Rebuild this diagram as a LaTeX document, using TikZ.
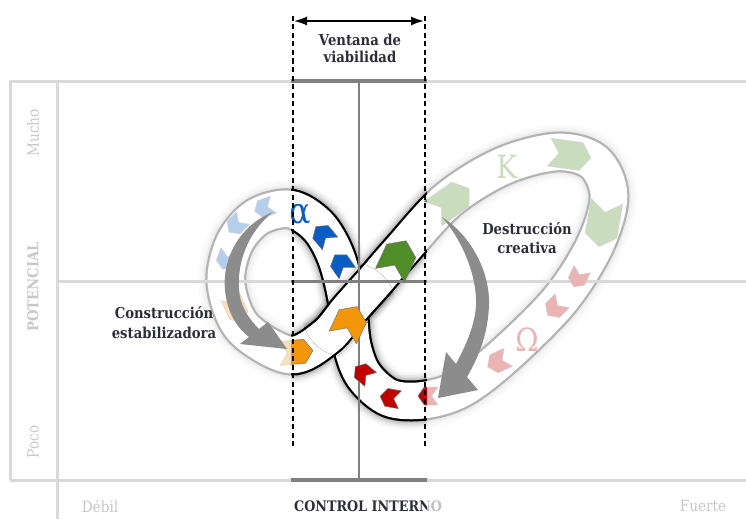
\documentclass[tikz,border=0pt]{standalone}
\usepackage{fontspec}
\setmainfont{DejaVu Serif}[FakeStretch=0.88]
\usetikzlibrary{arrows.meta}
\definecolor{cblue}{RGB}{10,93,194}
\definecolor{corange}{RGB}{243,150,10}
\definecolor{cgreen}{RGB}{80,140,40}
\definecolor{cred}{RGB}{192,0,0}
\definecolor{gridc}{RGB}{128,128,128}
\definecolor{txt}{RGB}{45,45,58}
\definecolor{sidetxt}{RGB}{70,70,70}
\definecolor{arrowgray}{RGB}{140,140,140}
\tikzset{
  pics/chev/.style args={#1/#2}{code={
    \path[pic actions] ({-#1/2},{#2}) -- ({#1/2-0.7*#2},{#2}) -- ({#1/2},0)
      -- ({#1/2-0.7*#2},{-#2}) -- ({-#1/2},{-#2}) -- ({-#1/2+0.7*#2},0) -- cycle;
  }},
  chevstyle/.style={draw=black!55, line width=0.5pt, line join=round},
  lbl/.style={font=\bfseries\fontsize{14.5}{19}\selectfont, text=txt, align=center, inner sep=0pt},
  sidelbl/.style={font=\fontsize{15.5}{17}\selectfont, text=sidetxt, inner sep=0pt},
  greek/.style={font=\fontsize{32}{32}\selectfont, inner sep=0pt},
  gridline/.style={draw=gridc, line width=3pt},
  dashline/.style={draw=black, line width=2.4pt, dash pattern=on 5pt off 3.5pt},
  bigarrow/.style={fill=arrowgray, draw=none},
}
\def\ribbonpath{plot[smooth cycle, tension=0.55] coordinates {(349,310) (374,282) (400,252) (448,200) (503,166) (557,152) (594,162) (609,196) (595,245) (560,300) (505,355) (462,388) (425,400) (390,398) (364,376) (352,345) (347,300) (336,257) (318,226) (290,209) (257,217) (234,244) (226,284) (243,328) (290,355) (326,337)}}
\def\Apath{plot[smooth, tension=0.55] coordinates {(226,284) (243,328) (290,355) (326,337) (349,310) (374,282) (400,252) (448,200)}}
\begin{document}
\begin{tikzpicture}[x=1pt,y=-1pt]
\useasboundingbox (0,0) rectangle (746,519);
% frame
\coordinate (tl) at (10,81);
\coordinate (bl) at (10,480);
\coordinate (tr) at (746,81);
\coordinate (br) at (746,480);
\coordinate (st) at (57,81);
\coordinate (sb) at (57,519);
\coordinate (ml) at (57,281);
\coordinate (mr) at (746,281);
\coordinate (vt) at (359,81);
\coordinate (vb) at (359,480);
\draw[gridline] (tl) -- (tr);
\draw[gridline] (bl) -- (br);
\draw[gridline] (tl) -- (bl);
\draw[gridline] (st) -- (sb);
% ribbon
\foreach \w/\o in {57/0.035, 52/0.05, 48/0.07, 44.5/0.1} {
  \draw[line width=\w pt, black, opacity=\o] \ribbonpath;
}
\draw[line width=41pt, black] \ribbonpath;
\draw[line width=36.5pt, white] \ribbonpath;
\begin{scope}
  \clip (349,310) circle (48pt);
  \foreach \w/\o in {52/0.05, 46/0.09} {
    \draw[line width=\w pt, black, opacity=\o] \Apath;
  }
  \draw[line width=41pt, black] \Apath;
  \draw[line width=36.5pt, white] \Apath;
\end{scope}
% middle lines
\draw[gridline] (ml) -- (mr);
\draw[gridline, line width=2.5pt] (vt) -- (vb);
\coordinate (wtl) at (290,81);
\coordinate (wtr) at (428,81);
\coordinate (wbl) at (290,480);
\coordinate (wbr) at (428,480);
\draw[gridline, line width=4.5pt] (wtl) -- (wtr);
\draw[gridline, line width=4.5pt] (wbl) -- (wbr);
% chevrons left loop
\pic[chevstyle, fill=cblue, rotate=200] at (264,208) {chev={20/9}};
\pic[chevstyle, fill=cblue, rotate=225] at (236,225) {chev={20/9}};
\pic[chevstyle, fill=cblue, rotate=250] at (226,260) {chev={20/9}};
\pic[chevstyle, fill=corange, rotate=-65] at (236,309) {chev={28/10}};
\pic[chevstyle, fill=corange, rotate=5] at (296,352) {chev={34/12}};
\pic[chevstyle, fill=corange, rotate=65] at (350,322) {chev={34/15}};
\pic[chevstyle, fill=cgreen, rotate=65] at (398,258) {chev={38/16}};
\pic[chevstyle, fill=cblue, rotate=130] at (323,235) {chev={22/10}};
\pic[chevstyle, fill=cblue, rotate=125] at (341,264) {chev={22/10}};
% chevrons right loop
\pic[chevstyle, fill=cgreen, rotate=35] at (451,201) {chev={44/15}};
\pic[chevstyle, fill=cgreen, rotate=-8] at (570,155) {chev={42/14}};
\pic[chevstyle, fill=cgreen, rotate=-100] at (603,224) {chev={46/16}};
\pic[chevstyle, fill=cred, rotate=-115] at (578,278) {chev={20/9}};
\pic[chevstyle, fill=cred, rotate=-135] at (555,308) {chev={21/10}};
\pic[chevstyle, fill=cred, rotate=-155] at (498,362) {chev={23/10}};
\pic[chevstyle, fill=cred, rotate=180] at (428,396) {chev={20/9}};
\pic[chevstyle, fill=cred, rotate=170] at (390,398) {chev={20/9}};
\pic[chevstyle, fill=cred, rotate=140] at (363,373) {chev={20/9}};
% greek letters
\node[greek, text=cblue, font=\fontsize{36}{36}\selectfont] (alpha) at (300,214) {α};
\node[greek, text=cgreen] (kappa) at (507,167) {K};
\node[greek, text=cred] (omega) at (527,340) {Ω};
% side and axis labels
\node[sidelbl, rotate=90] (mucho) at (33,133) {Mucho};
\node[sidelbl, rotate=90, font=\bfseries\fontsize{15}{17}\selectfont] (pot) at (33,287) {POTENCIAL};
\node[sidelbl, rotate=90] (poco) at (33,442) {Poco};
\node[sidelbl] (debil) at (100,506) {Débil};
\node[sidelbl] (fuerte) at (703,506) {Fuerte};
\node[lbl] (ci) at (368,506) {CONTROL INTERNO};
% overlay outside window
\fill[white, opacity=0.7] (0,0) rectangle (291,519);
\fill[white, opacity=0.7] (427,0) rectangle (746,519);
% window
\coordinate (d1t) at (293,16);
\coordinate (d1b) at (293,448);
\coordinate (d2t) at (425,16);
\coordinate (d2b) at (425,448);
\draw[dashline] (d1t) -- (d1b);
\draw[dashline] (d2t) -- (d2b);
\coordinate (al) at (294,21);
\coordinate (ar) at (424,21);
\draw[line width=1.8pt, {Latex[length=13pt,width=9pt]}-{Latex[length=13pt,width=9pt]}] (al) -- (ar);
\node[lbl, font=\bfseries\fontsize{15}{17.5}\selectfont] (ventana) at (360,48.5) {Ventana de\\viabilidad};
% big gray arrows
\path[bigarrow] (273,212) .. controls (240,225) and (222,258) .. (225,290)
  .. controls (227,312) and (237,328) .. (249,337) -- (240,344) -- (287,349) -- (268,322) -- (259,329)
  .. controls (248,318) and (240,305) .. (239,290) .. controls (237,262) and (248,232) .. (273,212) -- cycle;
\path[bigarrow] (442,217) .. controls (470,235) and (490,270) .. (489,305)
  .. controls (488,335) and (478,358) .. (467,377) -- (478,390) -- (438,398) -- (446,352) -- (456,364)
  .. controls (466,345) and (475,325) .. (476,305) .. controls (477,275) and (462,240) .. (442,217) -- cycle;
\node[lbl, font=\bfseries\fontsize{15}{20}\selectfont] (constr) at (164,323) {Construcción\\estabilizadora};
\node[lbl, font=\bfseries\fontsize{15}{19}\selectfont] (destr) at (527,238) {Destrucción\\creativa};
\end{tikzpicture}
\end{document}
